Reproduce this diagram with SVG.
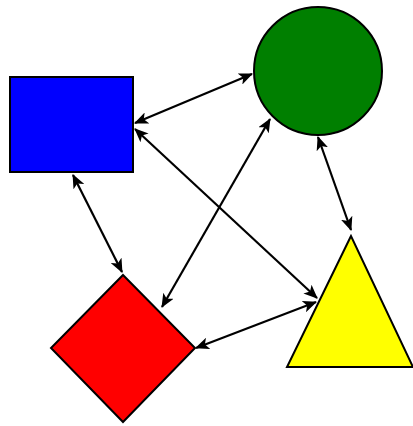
<svg xmlns="http://www.w3.org/2000/svg" width="413" height="426" viewBox="0 0 413 426">
<style>
.shape{stroke:#000;stroke-width:2}
.conn{stroke:#000;stroke-width:2.2;fill:none;marker-start:url(#ah);marker-end:url(#ah)}
</style>
<defs>
<marker id="ah" viewBox="0 0 14 12" refX="13" refY="6" markerWidth="14" markerHeight="12" markerUnits="userSpaceOnUse" orient="auto-start-reverse">
<path d="M0,0 L14,6 L0,12 L3.5,6 Z" fill="#000"/>
</marker>
</defs>
<rect width="413" height="426" fill="#fff"/>
<g id="rect"><rect class="shape" x="10" y="77" width="123" height="95" fill="#0000ff"/></g>
<g id="circle"><circle class="shape" cx="318" cy="71" r="64" fill="#007f00"/></g>
<g id="triangle"><polygon class="shape" points="351,236 287,367 413,367" fill="#ffff00"/></g>
<g id="diamond"><polygon class="shape" points="123,275 195,348 123,422 51,348" fill="#ff0000"/></g>
<g id="connectors">
<line class="conn" x1="135" y1="123" x2="252" y2="74"/>
<line class="conn" x1="135" y1="129" x2="317" y2="298"/>
<line class="conn" x1="73" y1="175" x2="122" y2="272"/>
<line class="conn" x1="270" y1="119" x2="162" y2="307"/>
<line class="conn" x1="318" y1="137" x2="351" y2="230"/>
<line class="conn" x1="316" y1="302" x2="196" y2="348"/>
</g>
</svg>
